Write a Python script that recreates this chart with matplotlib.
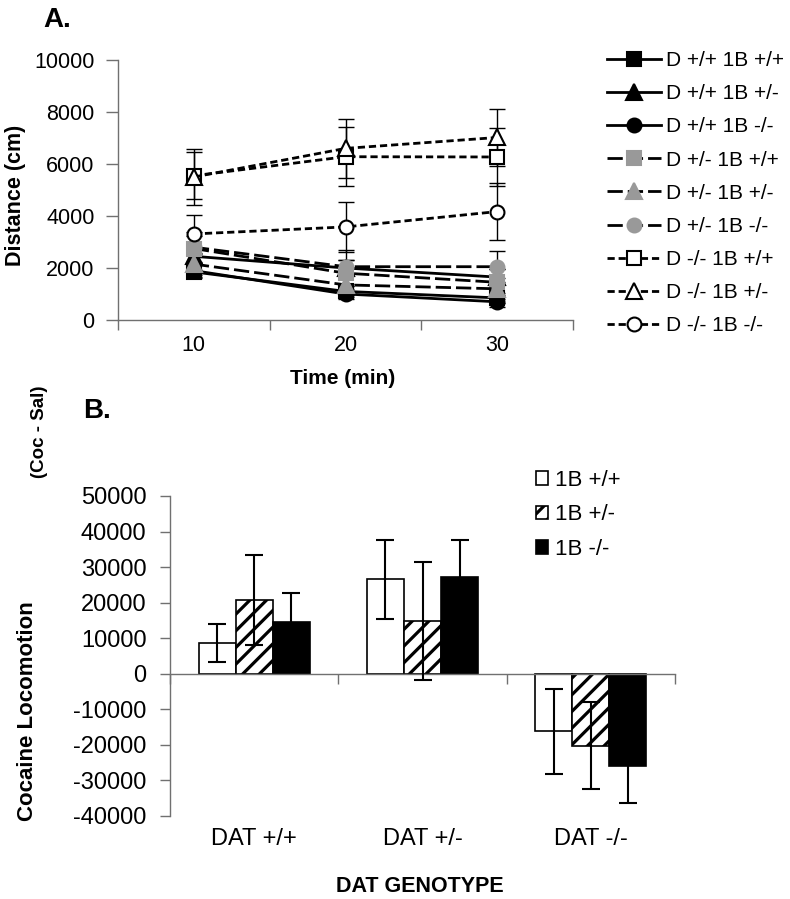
import matplotlib
matplotlib.use('Agg')
import matplotlib.pyplot as plt
from matplotlib.patches import Patch
import matplotlib.transforms as mtrans

plt.rcParams['font.family'] = ['Liberation Sans', 'DejaVu Sans']
plt.rcParams['hatch.linewidth'] = 2.3

# ---------------- data: panel A ----------------
times = [10, 20, 30]
labels_A = ['D +/+ 1B +/+', 'D +/+ 1B +/-', 'D +/+ 1B -/-',
            'D +/- 1B +/+', 'D +/- 1B +/-', 'D +/- 1B -/-',
            'D -/- 1B +/+', 'D -/- 1B +/-', 'D -/- 1B -/-']
d_pp_1b_pp = [1850, 1100, 850]
d_pp_1b_pm = [2450, 2000, 1650]
d_pp_1b_mm = [1900, 1000, 700]
d_pm_1b_pp = [2750, 1800, 1450]
d_pm_1b_pm = [2150, 1350, 1200]
d_pm_1b_mm = [2800, 2050, 2050]
d_mm_1b_pp = [5550, 6280, 6270]
d_mm_1b_pm = [5500, 6600, 7020]
d_mm_1b_mm = [3310, 3580, 4170]
err_d_pp_1b_pp = [250, 200, 200]
err_d_pp_1b_pm = [300, 300, 300]
err_d_pp_1b_mm = [250, 200, 200]
err_d_pm_1b_pp = [500, 500, 500]
err_d_pm_1b_pm = [400, 400, 400]
err_d_pm_1b_mm = [600, 650, 600]
err_d_mm_1b_pp = [900, 1130, 1100]
err_d_mm_1b_pm = [1080, 1120, 1090]
err_d_mm_1b_mm = [730, 950, 1110]
yticks_A = [0, 2000, 4000, 6000, 8000, 10000]

# ---------------- data: panel B ----------------
genotypes = ['DAT +/+', 'DAT +/-', 'DAT -/-']
labels_B = ['1B +/+', '1B +/-', '1B -/-']
b_1b_pp = [8600, 26500, -16200]
b_1b_pm = [20700, 14800, -20300]
b_1b_mm = [14600, 27200, -26000]
err_1b_pp = [5300, 11000, 12000]
err_1b_pm = [12600, 16500, 12200]
err_1b_mm = [8000, 10400, 10300]
yticks_B = [-40000, -30000, -20000, -10000, 0, 10000, 20000, 30000, 40000, 50000]

# ---------------- figure ----------------
W, H = 790, 899
fig = plt.figure(figsize=(W / 100, H / 100), dpi=100)


def rect(l, t, r, b):
    return [l / W, 1 - b / H, (r - l) / W, (b - t) / H]


GRAY = '#999999'
SPINE = '#707070'

# ---------- panel A ----------
ax1 = fig.add_axes(rect(118, 60, 573, 320))
series_A = [d_pp_1b_pp, d_pp_1b_pm, d_pp_1b_mm, d_pm_1b_pp, d_pm_1b_pm,
            d_pm_1b_mm, d_mm_1b_pp, d_mm_1b_pm, d_mm_1b_mm]
errs_A = [err_d_pp_1b_pp, err_d_pp_1b_pm, err_d_pp_1b_mm, err_d_pm_1b_pp,
          err_d_pm_1b_pm, err_d_pm_1b_mm, err_d_mm_1b_pp, err_d_mm_1b_pm,
          err_d_mm_1b_mm]
markers = ['s', '^', 'o'] * 3
msizes = [10, 11, 10] * 3
faces = ['black'] * 3 + [GRAY] * 3 + ['white'] * 3
edges = ['black'] * 3 + [GRAY] * 3 + ['black'] * 3
styles = ['-'] * 3 + [(0, (5.5, 1.8))] * 3 + [(0, (2.6, 1.4))] * 3

xpos = list(range(len(times)))
handles = []
for i, (vals, er) in enumerate(zip(series_A, errs_A)):
    ax1.errorbar(xpos, vals, yerr=er, fmt='none', ecolor='black',
                 elinewidth=1, capsize=5.5, capthick=1, zorder=2 + i * 0.1)
    ln, = ax1.plot(xpos, vals, color='black', lw=2, linestyle=styles[i],
                   marker=markers[i], ms=msizes[i], mfc=faces[i],
                   mec=edges[i], mew=1.5, zorder=3 + i * 0.1,
                   label=labels_A[i])
    handles.append(ln)

ax1.set_xlim(-0.5, len(times) - 0.5)
ax1.set_ylim(0, 10000)
ax1.set_yticks(yticks_A)
ax1.set_yticklabels([str(v) for v in yticks_A])
ax1.set_xticks(xpos)
ax1.set_xticklabels([str(t) for t in times])
ax1.set_xticks([p - 0.5 for p in xpos] + [xpos[-1] + 0.5], minor=True)
ax1.tick_params(axis='x', which='major', length=0, pad=11, labelsize=15.5)
ax1.tick_params(axis='x', which='minor', length=7, direction='out',
                color=SPINE, width=1)
ax1.tick_params(axis='y', length=9, direction='out', color=SPINE, width=1,
                pad=8, labelsize=15.5)
for s in ['top', 'right']:
    ax1.spines[s].set_visible(False)
for s in ['left', 'bottom']:
    ax1.spines[s].set_color(SPINE)
    ax1.spines[s].set_linewidth(1)

fig.text(57 / W, 1 - 20 / H, 'A.', fontsize=20, fontweight='bold',
         ha='center', va='center')
fig.text(343 / W, 1 - 378 / H, 'Time (min)', fontsize=15, fontweight='bold',
         ha='center', va='center')
fig.text(16 / W, 1 - 195 / H, 'Distance (cm)', fontsize=15.5,
         fontweight='bold', ha='center', va='center', rotation=90)

fig.legend(handles=handles, loc='upper left',
           bbox_to_anchor=(607 / W, 1 - 51 / H), frameon=False,
           fontsize=15, handlelength=2.6, handletextpad=0.25,
           labelspacing=0.68, borderpad=0, borderaxespad=0)

# ---------- panel B ----------
ax2 = fig.add_axes(rect(170, 496, 675, 815.7))
bw = 0.22
series_B = [b_1b_pp, b_1b_pm, b_1b_mm]
errs_B = [err_1b_pp, err_1b_pm, err_1b_mm]
bfaces = ['white', 'white', 'black']
bhatch = [None, '//', None]
gx = list(range(len(genotypes)))
patches = []
for j, (vals, er) in enumerate(zip(series_B, errs_B)):
    xs = [g + (j - 1) * bw for g in gx]
    ax2.bar(xs, vals, width=bw, color=bfaces[j], edgecolor='black',
            hatch=bhatch[j], linewidth=1.2, zorder=2)
    ax2.errorbar(xs, vals, yerr=er, fmt='none', ecolor='black',
                 elinewidth=1.5, capsize=6.5, capthick=1.5, zorder=3)
    patches.append(Patch(facecolor=bfaces[j], edgecolor='black',
                         hatch=bhatch[j], linewidth=1.2, label=labels_B[j]))

ax2.set_xlim(-0.5, len(genotypes) - 0.5)
ax2.set_ylim(-40000, 50000)
ax2.set_yticks(yticks_B)
ax2.set_yticklabels([str(v) for v in yticks_B])
ax2.set_xticks([g - 0.5 for g in gx] + [gx[-1] + 0.5])
ax2.set_xticklabels([])
ax2.spines['bottom'].set_position(('data', 0))
for s in ['top', 'right']:
    ax2.spines[s].set_visible(False)
for s in ['left', 'bottom']:
    ax2.spines[s].set_color(SPINE)
    ax2.spines[s].set_linewidth(1)
ax2.tick_params(axis='x', length=7, direction='out', color=SPINE, width=1)
ax2.tick_params(axis='y', length=7, direction='out', color=SPINE, width=1,
                pad=10, labelsize=17)

tr = mtrans.blended_transform_factory(ax2.transData, fig.transFigure)
for g, name in zip(gx, genotypes):
    ax2.text(g, 1 - 839 / H, name, transform=tr, ha='center', va='center',
             fontsize=17)

fig.text(97 / W, 1 - 411 / H, 'B.', fontsize=20, fontweight='bold',
         ha='center', va='center')
fig.text(420 / W, 1 - 886 / H, 'DAT GENOTYPE', fontsize=15.5,
         fontweight='bold', ha='center', va='center')
fig.text(28 / W, 1 - 711 / H, 'Cocaine Locomotion', fontsize=16,
         fontweight='bold', ha='center', va='center', rotation=90)
fig.text(40 / W, 1 - 432 / H, '(Coc - Sal)', fontsize=13.5,
         fontweight='bold', ha='center', va='center', rotation=90)

fig.legend(handles=patches, loc='upper left',
           bbox_to_anchor=(536 / W, 1 - 470 / H), frameon=False,
           fontsize=16, handlelength=0.55, handleheight=0.55,
           handletextpad=0.3, labelspacing=0.6, borderpad=0,
           borderaxespad=0)

fig.savefig('out.png', dpi=100)
